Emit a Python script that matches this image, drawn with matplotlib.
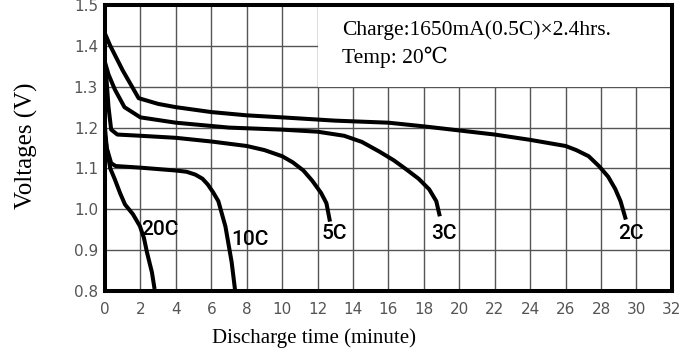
import matplotlib
matplotlib.use("Agg")
import matplotlib.pyplot as plt
from matplotlib.patches import Rectangle

# discharge curves (minute, volt)
t_2c = [0, 0.3, 1.0, 1.9, 3, 4, 6, 8, 10, 13, 16, 18, 20, 22, 24, 26, 26.6, 27.3, 27.9, 28.4, 28.8, 29.1, 29.4]
v_2c = [1.43, 1.40, 1.34, 1.272, 1.258, 1.25, 1.238, 1.23, 1.225, 1.217, 1.212, 1.203, 1.193, 1.183, 1.17, 1.155, 1.145, 1.13, 1.105, 1.08, 1.05, 1.02, 0.975]

t_3c = [0, 0.2, 0.56, 1.1, 2, 4, 7, 10, 12, 13.5, 14.5, 15.5, 16.3, 17, 17.7, 18.3, 18.7, 18.9]
v_3c = [1.36, 1.33, 1.293, 1.25, 1.225, 1.212, 1.2, 1.195, 1.19, 1.18, 1.165, 1.141, 1.12, 1.098, 1.075, 1.049, 1.02, 0.983]

t_5c = [0.05, 0.2, 0.35, 0.7, 2, 4, 6, 8, 9, 10, 10.6, 11.2, 11.7, 12.2, 12.5, 12.7]
v_5c = [1.34, 1.25, 1.195, 1.183, 1.18, 1.175, 1.166, 1.155, 1.145, 1.13, 1.115, 1.095, 1.07, 1.04, 1.015, 0.97]

t_10c = [0, 0.1, 0.35, 0.6, 2, 4, 4.6, 5.1, 5.5, 5.8, 6.1, 6.4, 6.8, 7.15, 7.35]
v_10c = [1.2, 1.15, 1.113, 1.106, 1.102, 1.095, 1.092, 1.085, 1.075, 1.061, 1.042, 1.02, 0.958, 0.871, 0.8]

t_20c = [0, 0.1, 0.3, 0.56, 0.85, 1.13, 1.58, 1.97, 2.2, 2.37, 2.65, 2.8]
v_20c = [1.18, 1.15, 1.1, 1.073, 1.04, 1.012, 0.988, 0.959, 0.93, 0.895, 0.846, 0.805]

curves = [(t_2c, v_2c), (t_3c, v_3c), (t_5c, v_5c), (t_10c, v_10c), (t_20c, v_20c)]

# label text and anchor (minute, volt)
labels = ["2C", "3C", "5C", "10C", "20C"]
label_x = [29.7, 19.15, 12.95, 8.2, 3.1]
label_y = [0.94, 0.94, 0.94, 0.927, 0.951]

x_ticks = list(range(0, 33, 2))
y_ticks = [0.8, 0.9, 1.0, 1.1, 1.2, 1.3, 1.4, 1.5]

fig = plt.figure(figsize=(6.97, 3.55), dpi=100)
ax = fig.add_axes([0.1506, 0.180, 0.8134, 0.806])

for t, v in curves:
    ax.plot(t, v, color="black", lw=2.9, solid_capstyle="butt",
            solid_joinstyle="round", zorder=3)

for lab, lx, ly in zip(labels, label_x, label_y):
    ax.text(lx, ly, lab, ha="center", va="center", fontsize=15,
            family="Roboto", weight="medium", zorder=4)

# white panel behind the note hides the grid
ax.add_patch(Rectangle((12, 1.3), 20, 0.2, facecolor="white", edgecolor="none", zorder=1.8))
ax.text(13.4, 1.439, "Charge:1650mA(0.5C)×2.4hrs.", fontsize=15.5,
        family=["Liberation Serif", "DejaVu Serif"], va="center", zorder=4)
ax.text(13.4, 1.371, "Temp: 20℃", fontsize=15.5,
        family=["Liberation Serif", "DejaVu Serif"], va="center", zorder=4)

ax.set_xlim(0, 32)
ax.set_ylim(0.8, 1.5)
ax.set_xticks(x_ticks)
ax.set_yticks(y_ticks)
ax.set_yticklabels([f"{y:.1f}" for y in y_ticks])
ax.grid(True, color="#555555", lw=1.0)
ax.tick_params(length=0, labelsize=11, labelcolor="#555555")
ax.tick_params(axis="x", pad=8)
ax.tick_params(axis="y", pad=5)
for sp in ax.spines.values():
    sp.set_linewidth(2.9)
    sp.set_zorder(5)

fig.text(314 / 697, 1 - 338 / 355, "Discharge time (minute)", ha="center", va="center",
         fontsize=15, family="Liberation Serif")
fig.text(26 / 697, 1 - 146 / 355, "Voltages (V)", ha="center", va="center", rotation=90,
         fontsize=18, family="Liberation Serif")

fig.savefig("out.png", dpi=100)
